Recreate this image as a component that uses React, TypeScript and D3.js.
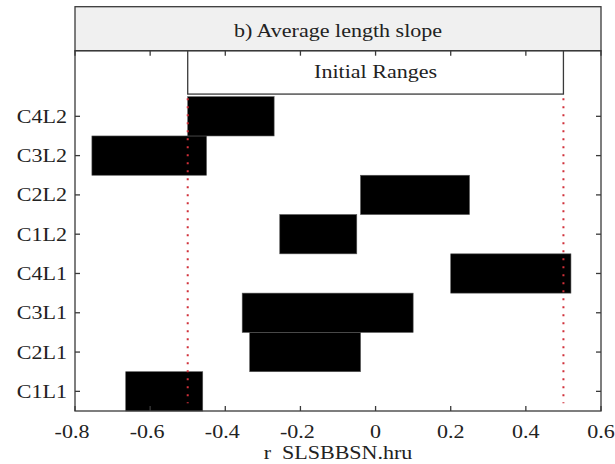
import React from "react";
import * as d3 from "d3";

// 8 scenarios, bottom (C1L1) to top (C4L2)
const categories = ["C1L1", "C2L1", "C3L1", "C4L1", "C1L2", "C2L2", "C3L2", "C4L2"];
// range of the parameter for each scenario (low / high end of the bar)
const lowValues = [-0.665, -0.335, -0.355, 0.2, -0.255, -0.04, -0.755, -0.5];
const highValues = [-0.46, -0.04, 0.1, 0.52, -0.05, 0.25, -0.45, -0.27];
// x axis ticks
const xTicks = [-0.8, -0.6, -0.4, -0.2, 0, 0.2, 0.4, 0.6];
const xTickLabels = ["-0.8", "-0.6", "-0.4", "-0.2", "0", "0.2", "0.4", "0.6"];
// initial range of the parameter
const initialRange = [-0.5, 0.5];

const title = "b) Average length slope";
const xLabel = "r\u00a0\u00a0SLSBBSN.hru";
const rangeLabel = "Initial Ranges";

const width = 615;
const height = 464;
const left = 75;
const right = 601;
const top = 50.7;
const bottom = 411;
const titleTop = 6.7;

const font = "Liberation Serif, Times New Roman, Times, serif";
const axisColor = "#3a3a3a";

// the text in the picture is a bit wider than it is tall, so stretch it sideways
const Txt = ({ x, y, anchor = "middle", children }: any) => (
  <text
    transform={`translate(${x},${y}) scale(1.16,1)`}
    textAnchor={anchor}
    style={{ fontFamily: font, fontSize: 19 }}
    fill="#222"
  >
    {children}
  </text>
);

const Chart = () => {
  const x = d3.scaleLinear().domain([-0.8, 0.6]).range([left, right]);
  // positions 1..8 for the categories, extra room above for the "Initial Ranges" box
  const y = d3.scaleLinear().domain([0.5, 9.67]).range([bottom, top]);
  const tickLen = 5;

  return (
    <svg width={width} height={height} style={{ position: "absolute", left: 0, top: 0, background: "#fff" }}>
      {/* title box */}
      <rect x={left} y={titleTop} width={right - left} height={top - titleTop} fill="#f0f0f0" stroke={axisColor} strokeWidth={1.3} />
      <Txt x={(left + right) / 2} y={37}>{title}</Txt>

      {/* bars */}
      {categories.map((c, i) => (
        <rect
          key={c}
          x={x(lowValues[i])}
          y={y(i + 1.5)}
          width={x(highValues[i]) - x(lowValues[i])}
          height={y(i + 0.5) - y(i + 1.5)}
          fill="#000"
          stroke="#555"
          strokeWidth={0.6}
        />
      ))}

      {/* initial range box */}
      <rect
        x={x(initialRange[0])}
        y={top}
        width={x(initialRange[1]) - x(initialRange[0])}
        height={y(8.566) - top}
        fill="#fff"
        stroke={axisColor}
        strokeWidth={1.3}
      />
      <Txt x={x((initialRange[0] + initialRange[1]) / 2)} y={78}>{rangeLabel}</Txt>

      {/* dotted lines at the initial range limits */}
      {initialRange.map((v) => (
        <line
          key={v}
          x1={x(v)}
          x2={x(v)}
          y1={y(8.46)}
          y2={y(0.7)}
          stroke="#d0303a"
          strokeWidth={2}
          strokeDasharray="2,6"
        />
      ))}

      {/* axes box */}
      <rect x={left} y={top} width={right - left} height={bottom - top} fill="none" stroke={axisColor} strokeWidth={1.3} />

      {/* x ticks, inward on bottom and top */}
      {xTicks.map((t, i) => (
        <g key={t}>
          <line x1={x(t)} x2={x(t)} y1={bottom} y2={bottom - tickLen} stroke={axisColor} strokeWidth={1.3} />
          <line x1={x(t)} x2={x(t)} y1={top} y2={top + tickLen} stroke={axisColor} strokeWidth={1.3} />
          <Txt x={x(t) - (t < 0 ? 3 : 0)} y={438}>{xTickLabels[i]}</Txt>
        </g>
      ))}

      {/* y ticks and labels */}
      {categories.map((c, i) => (
        <g key={c}>
          <line x1={left} x2={left + tickLen} y1={y(i + 1)} y2={y(i + 1)} stroke={axisColor} strokeWidth={1.3} />
          <line x1={right} x2={right - tickLen} y1={y(i + 1)} y2={y(i + 1)} stroke={axisColor} strokeWidth={1.3} />
          <Txt x={67} y={y(i + 1) + 6.5} anchor="end">{c}</Txt>
        </g>
      ))}

      <Txt x={(left + right) / 2} y={459}>{xLabel}</Txt>
    </svg>
  );
};

export default function App() {
  return <Chart />;
}
